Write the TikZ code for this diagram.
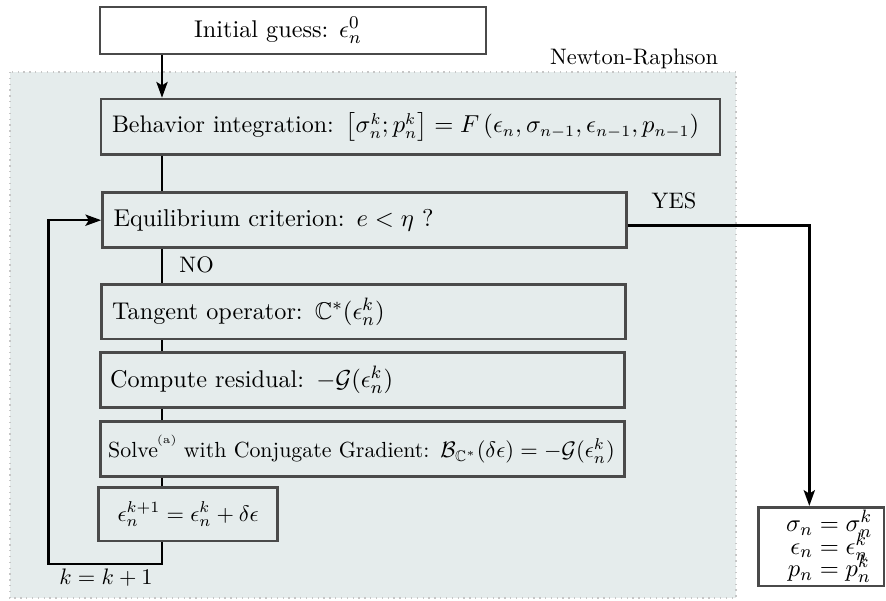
\documentclass[tikz,border=0pt]{standalone}
\usepackage{amsmath,amssymb}
\usetikzlibrary{arrows.meta,calc}
\newlength\px
\setlength\px{0.446pt}
\definecolor{nrbg}{HTML}{E5ECEC}
\definecolor{boxline}{HTML}{4A4A4A}
\begin{document}
\begin{tikzpicture}[x=\px,y=-\px,
  stepbox/.style={draw=boxline,line width=1.2pt,rectangle,inner xsep=0pt,inner ysep=0pt,align=left},
  conn/.style={line width=1.1pt,black},
  arr/.style={conn,-{Stealth[length=7pt,width=5pt,inset=1.5pt]}},
  lbl/.style={inner sep=0pt}]
\useasboundingbox (0,0) rectangle (886,601);
% background
\fill[nrbg] (10,72) rectangle (736,598);
\draw[gray!45,dotted,line width=0.6pt] (10,72) rectangle (736,598);
\node[lbl,anchor=base] (nrlabel) at (634,65) {Newton-Raphson};
% boxes
\node[stepbox,fill=white,minimum width=386\px,minimum height=47\px,align=center,font=\fontsize{10.8}{13}\selectfont] (init) at (293,30.5) {Initial guess: $\epsilon_n^0$\hspace*{30\px}};
\node[stepbox,text width=597\px,inner xsep=11\px,minimum height=55.5\px,font=\fontsize{10.7}{13}\selectfont] (behav) at (410.5,126.8)
  {Behavior integration: $\left[\sigma_n^k; p_n^k\right] = F\left(\epsilon_n, \sigma_{n-1}, \epsilon_{n-1}, p_{n-1}\right)$};
\node[stepbox,text width=502\px,inner xsep=11\px,minimum height=55\px,font=\fontsize{10.85}{13}\selectfont] (equil) at (364.5,220.2)
  {Equilibrium criterion: $e < \eta$ ?};
\node[stepbox,text width=502\px,inner xsep=11\px,minimum height=54.8\px,font=\fontsize{10.8}{13}\selectfont] (tang) at (363.2,311.6)
  {Tangent operator: $\mathbb{C}^*(\epsilon_n^k)$};
\node[stepbox,text width=504\px,inner xsep=10\px,minimum height=55\px,font=\fontsize{10.8}{13}\selectfont] (resid) at (362.2,380.2)
  {Compute residual: $-\mathcal{G}(\epsilon_n^k)$};
\node[stepbox,text width=514\px,inner xsep=5\px,minimum height=55.2\px,font=\fontsize{9.75}{11.5}\selectfont] (solve) at (362.2,449.1)
  {\hspace*{3\px}Solve\kern-0.5pt\raisebox{6.5pt}{\tiny (a)} with Conjugate Gradient: $\mathcal{B}_{\mathbb{C}^*}(\delta\epsilon) = -\mathcal{G}(\epsilon_n^k)$};
\node[stepbox,minimum width=179\px,minimum height=53.3\px,align=center,font=\fontsize{9.8}{11.5}\selectfont] (upd) at (188.2,514.3)
  {$\epsilon_n^{k+1} = \epsilon_n^k + \delta\epsilon$};
\node[stepbox,minimum width=125.3\px,minimum height=78.7\px,align=center,font=\fontsize{10.8}{13}\selectfont] (result) at (821.3,546.6)
  {\hspace*{16\px}$\sigma_n = \sigma_n^k$\\[-3pt] \hspace*{16\px}$\epsilon_n = \epsilon_n^k$\\[-3pt] \hspace*{16\px}$p_n = p_n^k$};
% connectors
\draw[arr] (init.south -| 162,0) -- (behav.north -| 162,0);
\draw[conn] (behav.south -| 162,0) -- (equil.north -| 162,0);
\draw[conn] (equil.south -| 162,0) -- (tang.north -| 162,0);
\draw[conn] (tang.south -| 162,0) -- (resid.north -| 162,0);
\draw[conn] (resid.south -| 162,0) -- (solve.north -| 162,0);
\draw[conn] (solve.south -| 162,0) -- (upd.north -| 162,0);
\coordinate (loopbr) at (162,564);
\coordinate (loopbl) at (48.7,564);
\draw[arr] (upd.south -| 162,0) -- (loopbr) -- (loopbl) |- (equil.west);
\coordinate (yesstart) at ($(equil.east)+(0,5.5)$);
\draw[arr] (yesstart) -| ($(result.north)+(-12,0)$);
% labels
\node[lbl,anchor=west] (nolabel) at (179,265) {NO};
\node[lbl] (yeslabel) at (674,201) {YES};
\node[lbl] (klabel) at (106,578) {$k = k+1$};
\end{tikzpicture}
\end{document}
